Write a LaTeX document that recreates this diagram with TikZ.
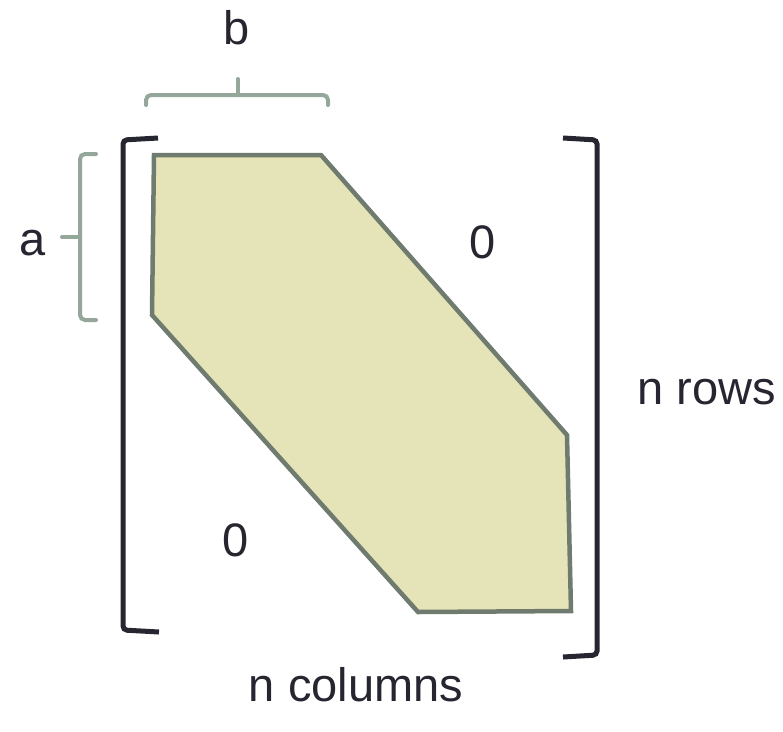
\documentclass[tikz,border=0pt]{standalone}
\usepackage{fontspec}
\setmainfont{Liberation Sans}
\definecolor{bracketc}{HTML}{262631}
\definecolor{bracec}{HTML}{94A79A}
\definecolor{polyfill}{HTML}{E5E4B8}
\definecolor{polyline}{HTML}{6E7B6E}
\begin{document}
\begin{tikzpicture}[x=1pt,y=-1pt,
  lbl/.style={font=\fontsize{47}{51}\selectfont, text=bracketc, inner sep=0pt},
  bracketline/.style={draw=bracketc, line width=5pt, rounded corners=4pt},
  braceline/.style={draw=bracec, line width=4pt, rounded corners=5pt, line cap=round},
  bandpoly/.style={fill=polyfill, draw=polyline, line width=4.5pt, line join=miter}]
\useasboundingbox (0,0) rectangle (783,731);
% band
\draw[bandpoly] (154,155) -- (321,155) -- (567,435) -- (571,611) -- (418,612) -- (152,315) -- cycle;
% brackets
\draw[bracketline] (158,138) -- (123,140) -- (123,630) -- (159,632);
\draw[bracketline] (563,138) -- (597,140) -- (597,655) -- (563,657);
% brace b
\draw[braceline] (146,105) -- (146,95) -- (328,95) -- (328,105);
\draw[braceline] (238,95) -- (238,79);
% brace a
\draw[braceline] (96,154) -- (80,154) -- (80,320) -- (96,320);
\draw[braceline] (80,237) -- (62,237);
% labels
\node[lbl] (lb) at (237,28) {b};
\node[lbl] (la) at (33,243) {a};
\node[lbl] (z1) at (483,242) {0};
\node[lbl] (z2) at (236,540) {0};
\node[lbl] (rows) at (707,392) {n rows};
\node[lbl] (cols) at (356,685) {n columns};
\end{tikzpicture}
\end{document}
